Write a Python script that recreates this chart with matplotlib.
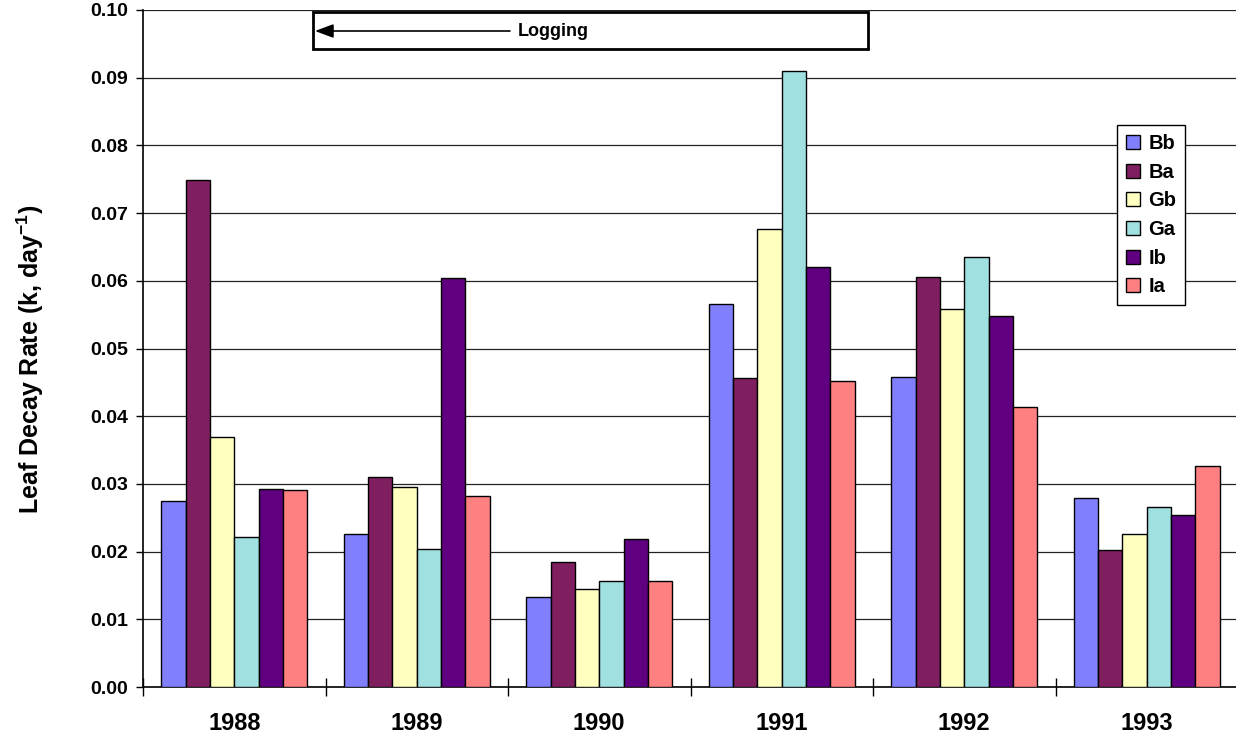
import numpy as np
import matplotlib
matplotlib.use("Agg")
import matplotlib.pyplot as plt
from matplotlib.ticker import FixedLocator, FormatStrFormatter

plt.rcParams["font.family"] = ["Liberation Sans", "DejaVu Sans"]
plt.rcParams["font.weight"] = "bold"
plt.rcParams["mathtext.fontset"] = "custom"
plt.rcParams["mathtext.rm"] = "Liberation Sans:bold"
plt.rcParams["mathtext.it"] = "Liberation Sans:bold"
plt.rcParams["mathtext.bf"] = "Liberation Sans:bold"

# data
years = ["1988", "1989", "1990", "1991", "1992", "1993"]
series = ["Bb", "Ba", "Gb", "Ga", "Ib", "Ia"]
bb = [0.0275, 0.0226, 0.0133, 0.0566, 0.0458, 0.0279]
ba = [0.0749, 0.0310, 0.0185, 0.0456, 0.0605, 0.0202]
gb = [0.0369, 0.0295, 0.0145, 0.0677, 0.0559, 0.0226]
ga = [0.0221, 0.0204, 0.0157, 0.0910, 0.0635, 0.0266]
ib = [0.0293, 0.0604, 0.0218, 0.0621, 0.0548, 0.0254]
ia = [0.0291, 0.0282, 0.0157, 0.0452, 0.0414, 0.0327]
colors = ["#8080FF", "#7F1F5F", "#FFFFC0", "#A0E0E0", "#600080", "#FF8080"]

values = [bb, ba, gb, ga, ib, ia]

fig = plt.figure(figsize=(12.36, 7.40), dpi=100)
ax = fig.add_axes([143 / 1236, 1 - 687 / 740, 1095 / 1236, 677 / 740])

x = np.arange(len(years))
w = 1 / 7.5
for j, (name, vals, c) in enumerate(zip(series, values, colors)):
    ax.bar(x + (j - 2.5) * w, vals, width=w, color=c, edgecolor="black",
           linewidth=1.0, label=name, zorder=3)

ax.set_xlim(-0.5, len(years) - 0.5)
ax.set_ylim(0, 0.10)
ax.yaxis.set_major_locator(FixedLocator(np.arange(0, 0.1001, 0.01)))
ax.yaxis.set_major_formatter(FormatStrFormatter("%.2f"))
ax.grid(axis="y", color="#222222", linewidth=0.9, zorder=0)
ax.set_axisbelow(True)

# category boundary ticks, labels at centers
ax.xaxis.set_major_locator(FixedLocator(np.arange(-0.5, len(years), 1.0)))
ax.xaxis.set_major_formatter(plt.NullFormatter())
ax.set_xticks(x, minor=True)
ax.set_xticklabels(years, minor=True, fontsize=17, fontweight="bold")
ax.tick_params(axis="x", which="major", direction="inout", length=13, width=1)
ax.tick_params(axis="x", which="minor", length=0, pad=18)
ax.tick_params(axis="y", direction="out", length=5, width=1, pad=6, labelsize=14)
for lbl in ax.get_yticklabels():
    lbl.set_fontweight("bold")

ax.spines["right"].set_visible(False)
ax.spines["top"].set_visible(False)
ax.spines["left"].set_linewidth(1.2)
ax.spines["bottom"].set_linewidth(1.2)

fig.text(30 / 1236, 1 - 359 / 740, r"Leaf Decay Rate (k, day$^{-1}$)",
         rotation=90, ha="center", va="center", fontsize=18, fontweight="bold")

# logging annotation box
bx0, bx1 = 313 / 1236, 868 / 1236
by0, by1 = 1 - 49 / 740, 1 - 12 / 740
ax.add_patch(plt.Rectangle((bx0, by0), bx1 - bx0, by1 - by0,
                           transform=fig.transFigure, facecolor="white",
                           edgecolor="black", linewidth=2, zorder=5,
                           clip_on=False))
ax.text(553 / 1236, 1 - 31 / 740, "Logging", transform=fig.transFigure,
        ha="center", va="center", fontsize=13, fontweight="bold", zorder=6)
ax.annotate("", xy=(315 / 1236, 1 - 31 / 740), xytext=(510 / 1236, 1 - 31 / 740),
            xycoords="figure fraction", textcoords="figure fraction",
            arrowprops=dict(arrowstyle="-|>,head_length=0.8,head_width=0.3",
                            color="black", lw=1.2, mutation_scale=14,
                            shrinkA=0, shrinkB=0),
            zorder=7, annotation_clip=False)

leg = ax.legend(loc="upper left", bbox_to_anchor=(1117 / 1236, 1 - 125 / 740),
                bbox_transform=fig.transFigure, fancybox=False, framealpha=1,
                edgecolor="black", fontsize=14.5, handlelength=0.7,
                handleheight=0.7, handletextpad=0.4, labelspacing=0.48,
                borderpad=0.45, borderaxespad=0)
leg.get_frame().set_linewidth(1.0)
leg.set_zorder(8)
for t in leg.get_texts():
    t.set_fontweight("bold")

fig.savefig("out.png", dpi=100)
